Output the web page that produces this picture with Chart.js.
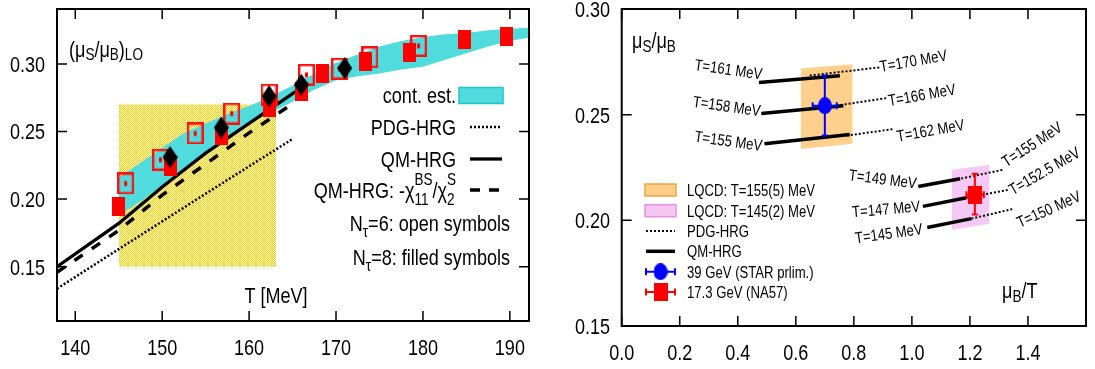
<!DOCTYPE html>
<html lang="en">
<head>
<meta charset="UTF-8">
<title>mu_S / mu_B</title>
<script src="https://cdn.jsdelivr.net/npm/chart.js"></script>
<style>
  body { margin: 0; background: #fff; width: 1095px; height: 369px; overflow: hidden; position: relative; }
  .panel { position: absolute; top: 0; width: 540px; height: 369px; }
  #left { left: 0; }
  #right { left: 555px; }
</style>
</head>
<body>
<div class="panel" id="left"><canvas id="leftChart" width="540" height="369"></canvas></div>
<div class="panel" id="right"><canvas id="rightChart" width="540" height="369"></canvas></div>
<script>
// ---- left panel: (mu_S/mu_B)_LO vs T ----
const bandT     = [145, 147.5, 150, 152.5, 155, 157.5, 160, 162.5, 165, 167.5, 170, 172.5, 175, 177.5, 180, 182.5, 185, 187.5, 190, 192.5];
const bandUpper = [0.216, 0.227, 0.238, 0.249, 0.256, 0.263, 0.269, 0.276, 0.284, 0.293, 0.301, 0.307, 0.313, 0.317, 0.320, 0.322, 0.323, 0.325, 0.326, 0.327];
const bandLower = [0.188, 0.198, 0.210, 0.222, 0.234, 0.245, 0.256, 0.264, 0.272, 0.281, 0.288, 0.291, 0.293, 0.296, 0.298, 0.303, 0.308, 0.313, 0.317, 0.320];

const boxT    = [145, 163.1];
const boxLow  = [0.15, 0.15];
const boxHigh = [0.27, 0.27];

const qmT    = [137.9, 145, 150, 155, 160, 165, 166];
const qmV    = [0.150, 0.182, 0.209, 0.234, 0.256, 0.278, 0.282];
const chiT   = [137.9, 145, 150, 155, 160, 165.2];
const chiV   = [0.1459, 0.1768, 0.2030, 0.2260, 0.2490, 0.2715];
const pdgT   = [137.9, 145, 150, 155, 160, 165];
const pdgV   = [0.1337, 0.1630, 0.1835, 0.2040, 0.2243, 0.2445];

const nt8T   = [145.0, 150.9, 156.8, 162.3, 166.0, 168.5, 173.4, 178.4, 184.8, 189.6];
const nt8V   = [0.1946, 0.2238, 0.2470, 0.2676, 0.2798, 0.2927, 0.3018, 0.3083, 0.3180, 0.3205];
const diaT   = [150.9, 156.8, 162.3, 166.0, 171.0];
const diaV   = [0.2311, 0.2530, 0.2762, 0.2847, 0.2969];
const nt6T   = [145.8, 149.8, 153.8, 158.0, 162.3, 166.6, 170.4, 173.9, 179.5];
const nt6V   = [0.2116, 0.2291, 0.2486, 0.2633, 0.2774, 0.2920, 0.2965, 0.3049, 0.3134];

// ---- right panel: mu_S/mu_B vs mu_B/T ----
const lqcdHiX = [0.617, 0.796], lqcdHiTop = [0.2718, 0.2739], lqcdHiBot = [0.2338, 0.2362];
const lqcdLoX = [1.1375, 1.2676], lqcdLoTop = [0.2239, 0.2263], lqcdLoBot = [0.1956, 0.1984];

const qmX0 = [0.473, 0.481, 0.492, 1.022, 1.038, 1.053];
const qmY0 = [0.2652, 0.2506, 0.2362, 0.2160, 0.2066, 0.1966];
const qmX1 = [0.752, 0.764, 0.786, 1.166, 1.188, 1.205];
const qmY1 = [0.2684, 0.2542, 0.2406, 0.2197, 0.2107, 0.2008];
const pdgX0 = [0.648, 0.741, 0.776, 1.143, 1.188, 1.205];
const pdgY0 = [0.2685, 0.2543, 0.2401, 0.2190, 0.2107, 0.2008];
const pdgX1 = [0.890, 0.915, 0.938, 1.313, 1.336, 1.352];
const pdgY1 = [0.2724, 0.2579, 0.2432, 0.2239, 0.2145, 0.2055];

const tempText  = ['T=161 MeV', 'T=158 MeV', 'T=155 MeV', 'T=170 MeV', 'T=166 MeV', 'T=162 MeV',
                   'T=149 MeV', 'T=147 MeV', 'T=145 MeV', 'T=155 MeV', 'T=152.5 MeV', 'T=150 MeV'];
const tempX     = [0.368, 0.362, 0.368, 1.005, 1.034, 1.064, 0.900, 0.911, 0.920, 1.413, 1.456, 1.471];
const tempY     = [0.2716, 0.2542, 0.2377, 0.2756, 0.2595, 0.2427, 0.2197, 0.2055, 0.1940, 0.2361, 0.2235, 0.2054];
const tempAngle = [8, 8, 8, -10, -10, -10, 7, -5, -8, -33, -30, -24];

const starX = [0.700],  starY = [0.2542], starXErr = [0.658, 0.741], starYErr = [0.2401, 0.2685];
const na57X = [1.217],  na57Y = [0.2121], na57XErr = [1.188, 1.248], na57YErr = [0.2028, 0.2220];

// no narrow face is installed: Liberation Sans squeezed to Helvetica Narrow widths
const FONT = "'Liberation Sans', Arial, sans-serif";
const SQ = 0.82;
Chart.defaults.font.family = FONT;
Chart.defaults.color = '#000';

function xy(xs, ys) { return xs.map((x, i) => ({ x: x, y: ys[i] })); }

function marker(w, h, paint) {
  const c = document.createElement('canvas');
  c.width = w; c.height = h;
  paint(c.getContext('2d'), w, h);
  return c;
}
const redBox = marker(13, 19, (g, w, h) => { g.fillStyle = '#ff0000'; g.fillRect(0, 0, w, h); });
const openBox = marker(17, 22, (g, w, h) => {
  g.strokeStyle = '#ff1010'; g.lineWidth = 2.4; g.strokeRect(1.2, 1.2, w - 2.4, h - 2.4);
  g.fillStyle = '#ff0000'; g.fillRect(w / 2 - 1.5, h / 2 - 2.5, 3, 5);
});
const diamond = marker(15, 22, (g, w, h) => {
  g.fillStyle = '#000'; g.beginPath();
  g.moveTo(w / 2, 0); g.lineTo(w, h / 2); g.lineTo(w / 2, h); g.lineTo(0, h / 2);
  g.closePath(); g.fill();
});
const blueDot = marker(14, 17, (g, w, h) => {
  g.fillStyle = '#0000ff'; g.beginPath(); g.ellipse(w / 2, h / 2, w / 2, h / 2, 0, 0, Math.PI * 2); g.fill();
});
const redSq = marker(14, 18, (g, w, h) => { g.fillStyle = '#ff0000'; g.fillRect(0, 0, w, h); });

function checker() {
  const c = document.createElement('canvas');
  c.width = 2; c.height = 2;
  const g = c.getContext('2d');
  g.fillStyle = '#f9d000'; g.fillRect(0, 0, 2, 2);
  g.fillStyle = '#fff8dc'; g.fillRect(1, 0, 1, 1); g.fillRect(0, 1, 1, 1);
  return g.createPattern(c, 'repeat');
}

// squeezed text at (x, y), alphabetic baseline
function text(ctx, s, x, y, size, align) {
  ctx.font = size + 'px ' + FONT;
  const w = ctx.measureText(s).width * SQ;
  const x0 = align === 'right' ? x - w : align === 'center' ? x - w / 2 : x;
  ctx.save();
  ctx.translate(x0, y);
  ctx.scale(SQ, 1);
  ctx.textAlign = 'left';
  ctx.textBaseline = 'alphabetic';
  ctx.fillText(s, 0, 0);
  ctx.restore();
  return w;
}

// rich text: strings in normal size, {sub, sup} objects small and shifted
function rich(ctx, parts, x, y, size, align, subDy, supDy) {
  const small = size * 0.75;
  subDy = subDy === undefined ? size * 0.2 : subDy;
  supDy = supDy === undefined ? -size * 0.45 : supDy;
  const widths = parts.map(p => {
    if (typeof p === 'string') { ctx.font = size + 'px ' + FONT; return ctx.measureText(p).width * SQ; }
    ctx.font = small + 'px ' + FONT;
    return SQ * Math.max(p.sub ? ctx.measureText(p.sub).width : 0, p.sup ? ctx.measureText(p.sup).width : 0);
  });
  const total = widths.reduce((a, b) => a + b, 0);
  let cx = align === 'right' ? x - total : align === 'center' ? x - total / 2 : x;
  ctx.fillStyle = '#000';
  parts.forEach((p, i) => {
    if (typeof p === 'string') {
      text(ctx, p, cx, y, size, 'left');
    } else {
      if (p.sub) text(ctx, p.sub, cx, y + subDy, small, 'left');
      if (p.sup) text(ctx, p.sup, cx, y + supDy, small, 'left');
    }
    cx += widths[i];
  });
}

// gnuplot style frame with inward ticks on all four sides, labels from the scale ticks
const frameTicks = {
  id: 'frameTicks',
  afterDraw(chart, args, opts) {
    const { ctx, chartArea: a, scales: { x, y } } = chart;
    const len = 10;
    ctx.save();
    ctx.strokeStyle = '#000';
    ctx.lineWidth = 1.5;
    ctx.beginPath();
    x.ticks.forEach(t => {
      const p = x.getPixelForValue(t.value);
      ctx.moveTo(p, a.bottom); ctx.lineTo(p, a.bottom - len);
      ctx.moveTo(p, a.top); ctx.lineTo(p, a.top + len);
    });
    y.ticks.forEach(t => {
      const p = y.getPixelForValue(t.value);
      ctx.moveTo(a.left, p); ctx.lineTo(a.left + len, p);
      ctx.moveTo(a.right, p); ctx.lineTo(a.right - len, p);
    });
    ctx.stroke();
    ctx.lineWidth = 2;
    ctx.strokeRect(a.left, a.top, a.right - a.left, a.bottom - a.top);

    ctx.fillStyle = '#000';
    x.ticks.forEach(t => {
      if (t.label) text(ctx, t.label, x.getPixelForValue(t.value), opts.xBase, 22, 'center');
    });
    y.ticks.forEach(t => {
      if (t.label) text(ctx, t.label, a.left - opts.yGap, y.getPixelForValue(t.value) + 7.9, 22, 'right');
    });
    ctx.restore();
  }
};

function legendLine(ctx, x0, x1, y, width, dash) {
  ctx.save();
  ctx.strokeStyle = '#000';
  ctx.lineWidth = width;
  ctx.setLineDash(dash);
  ctx.beginPath(); ctx.moveTo(x0, y); ctx.lineTo(x1, y); ctx.stroke();
  ctx.restore();
}

const leftDecor = {
  id: 'leftDecor',
  afterDraw(chart) {
    const ctx = chart.ctx;
    ctx.save();
    rich(ctx, ['(μ', { sub: 'S' }, '/μ', { sub: 'B' }, ')', { sub: 'LO' }], 69, 57, 22, 'left', 3);
    rich(ctx, ['T [MeV]'], 276, 303, 22, 'center');

    rich(ctx, ['cont. est.'], 456, 103, 22, 'right');
    ctx.fillStyle = '#50dcdd';
    ctx.strokeStyle = '#1cc3c9';
    ctx.lineWidth = 1.5;
    ctx.fillRect(459, 87.5, 44, 16);
    ctx.strokeRect(459, 87.5, 44, 16);

    rich(ctx, ['PDG-HRG'], 456, 135, 22, 'right');
    legendLine(ctx, 470, 502, 127, 2.4, [2, 2]);
    rich(ctx, ['QM-HRG'], 456, 167, 22, 'right');
    legendLine(ctx, 470, 502, 159, 3.3, []);
    rich(ctx, ['QM-HRG: -χ', { sub: '11', sup: 'BS' }, '/χ', { sub: '2', sup: 'S' }], 456, 198, 22, 'right', 7, -13);
    legendLine(ctx, 470, 500, 190, 3.5, [10, 9]);
    rich(ctx, ['N', { sub: 'τ' }, '=6: open symbols'], 510, 231, 22, 'right', 6);
    rich(ctx, ['N', { sub: 'τ' }, '=8: filled symbols'], 510, 265, 22, 'right', 6);
    ctx.restore();
  }
};

function errorBars(ctx, chart, xs, ys, xErr, yErr, color) {
  const sx = chart.scales.x, sy = chart.scales.y;
  const px = sx.getPixelForValue(xs[0]), py = sy.getPixelForValue(ys[0]);
  const xl = sx.getPixelForValue(xErr[0]), xh = sx.getPixelForValue(xErr[1]);
  const yl = sy.getPixelForValue(yErr[0]), yh = sy.getPixelForValue(yErr[1]);
  ctx.save();
  ctx.strokeStyle = color;
  ctx.lineWidth = 2;
  ctx.beginPath();
  ctx.moveTo(xl, py); ctx.lineTo(xh, py);
  ctx.moveTo(px, yl); ctx.lineTo(px, yh);
  ctx.moveTo(xl, py - 3.5); ctx.lineTo(xl, py + 3.5);
  ctx.moveTo(xh, py - 3.5); ctx.lineTo(xh, py + 3.5);
  ctx.moveTo(px - 3, yl); ctx.lineTo(px + 3, yl);
  ctx.moveTo(px - 3, yh); ctx.lineTo(px + 3, yh);
  ctx.stroke();
  ctx.restore();
}

const rightDecor = {
  id: 'rightDecor',
  beforeDatasetDraw(chart, args) {
    const ds = chart.data.datasets[args.index];
    if (ds.label === '39 GeV (STAR prlim.)') errorBars(chart.ctx, chart, starX, starY, starXErr, starYErr, '#0000ff');
    if (ds.label === '17.3 GeV (NA57)') errorBars(chart.ctx, chart, na57X, na57Y, na57XErr, na57YErr, '#ff0000');
  },
  afterDraw(chart) {
    const ctx = chart.ctx;
    const sx = chart.scales.x, sy = chart.scales.y;
    ctx.save();
    rich(ctx, ['μ', { sub: 'S' }, '/μ', { sub: 'B' }], 77, 48, 22, 'left', 4);
    rich(ctx, ['μ', { sub: 'B' }, '/T'], 447, 298, 22, 'left', 4);

    ctx.fillStyle = '#000';
    tempText.forEach((t, i) => {
      ctx.save();
      ctx.translate(sx.getPixelForValue(tempX[i]), sy.getPixelForValue(tempY[i]));
      ctx.rotate(tempAngle[i] * Math.PI / 180);
      text(ctx, t, 0, 5.7, 16, 'center');
      ctx.restore();
    });

    // legend
    const rows = [190, 210.7, 231, 251.3, 271.7, 292];
    const names = ['LQCD: T=155(5) MeV', 'LQCD: T=145(2) MeV', 'PDG-HRG', 'QM-HRG', '39 GeV (STAR prlim.)', '17.3 GeV (NA57)'];
    ctx.lineWidth = 1.5;
    ctx.fillStyle = '#ffcf88'; ctx.strokeStyle = '#f3a440';
    ctx.fillRect(90, rows[0] - 6, 31, 12); ctx.strokeRect(90, rows[0] - 6, 31, 12);
    ctx.fillStyle = '#f6c6f3'; ctx.strokeStyle = '#e890e6';
    ctx.fillRect(90, rows[1] - 6, 31, 12); ctx.strokeRect(90, rows[1] - 6, 31, 12);
    legendLine(ctx, 91, 120, rows[2], 2, [2, 2]);
    legendLine(ctx, 91, 120, rows[3], 3.5, []);
    [[rows[4], '#0000ff', blueDot], [rows[5], '#ff0000', redSq]].forEach(([ry, col, img]) => {
      ctx.strokeStyle = col; ctx.lineWidth = 2;
      ctx.beginPath();
      ctx.moveTo(91, ry); ctx.lineTo(120, ry);
      ctx.moveTo(91, ry - 3.5); ctx.lineTo(91, ry + 3.5);
      ctx.moveTo(120, ry - 3.5); ctx.lineTo(120, ry + 3.5);
      ctx.stroke();
      ctx.drawImage(img, 105.5 - img.width / 2, ry - img.height / 2);
    });
    ctx.fillStyle = '#000';
    names.forEach((n, i) => text(ctx, n, 132, rows[i] + 6, 16, 'left'));
    ctx.restore();
  }
};

const lineBase = { pointRadius: 0, fill: false, tension: 0, borderCapStyle: 'butt' };

new Chart(document.getElementById('leftChart'), {
  type: 'line',
  data: {
    datasets: [
      { label: 'box top', data: xy(boxT, boxHigh), borderColor: 'transparent', borderWidth: 1, pointRadius: 0, order: 10 },
      { label: 'box', data: xy(boxT, boxLow), borderColor: 'transparent', borderWidth: 1, pointRadius: 0, order: 10,
        fill: '-1', backgroundColor: checker() },
      { label: 'band top', data: xy(bandT, bandUpper), borderColor: 'transparent', borderWidth: 1, pointRadius: 0, order: 8 },
      { label: 'cont. est.', data: xy(bandT, bandLower), borderColor: 'transparent', borderWidth: 1, pointRadius: 0, order: 8,
        fill: '-1', backgroundColor: '#50dcdd' },
      Object.assign({ label: 'PDG-HRG', data: xy(pdgT, pdgV), borderColor: '#000', borderWidth: 2.5, borderDash: [2, 2], order: 5 }, lineBase),
      Object.assign({ label: 'QM-HRG: chi', data: xy(chiT, chiV), borderColor: '#000', borderWidth: 3.5, borderDash: [10, 11], order: 5 }, lineBase),
      Object.assign({ label: 'QM-HRG', data: xy(qmT, qmV), borderColor: '#000', borderWidth: 3.3, order: 5 }, lineBase),
      { label: 'Nt=6', data: xy(nt6T, nt6V), showLine: false, pointStyle: openBox, pointRadius: 8, order: 3 },
      { label: 'Nt=8', data: xy(nt8T, nt8V), showLine: false, pointStyle: redBox, pointRadius: 8, order: 2 },
      { label: 'Nt=8 diamonds', data: xy(diaT, diaV), showLine: false, pointStyle: diamond, pointRadius: 8, order: 1 }
    ]
  },
  options: {
    responsive: false,
    animation: false,
    events: [],
    layout: { padding: { left: 0, right: 11, top: 5, bottom: 0 } },
    plugins: { legend: { display: false }, tooltip: { enabled: false }, frameTicks: { xBase: 355, yGap: 12 } },
    scales: {
      x: {
        type: 'linear', min: 137.9, max: 192.2,
        grid: { display: false }, border: { display: false },
        ticks: {
          display: false, stepSize: 5, includeBounds: false, autoSkip: false,
          callback: v => (Math.round(v) % 10 === 0 ? String(Math.round(v)) : null)
        },
        afterFit: s => { s.height = 48; s.paddingLeft = 0; s.paddingRight = 0; }
      },
      y: {
        type: 'linear', min: 0.1098, max: 0.3407,
        grid: { display: false }, border: { display: false },
        ticks: {
          display: false, stepSize: 0.025, includeBounds: false, autoSkip: false,
          callback: v => { const k = Math.round(v * 1000); return k % 50 === 0 ? (k / 1000).toFixed(2) : null; }
        },
        afterFit: s => { s.width = 57; s.paddingTop = 0; s.paddingBottom = 0; }
      }
    }
  },
  plugins: [frameTicks, leftDecor]
});

const rightSets = [
  { label: 'hi top', data: xy(lqcdHiX, lqcdHiTop), borderColor: 'transparent', borderWidth: 1, pointRadius: 0, order: 10 },
  { label: 'LQCD: T=155(5) MeV', data: xy(lqcdHiX, lqcdHiBot), borderColor: 'transparent', borderWidth: 1, pointRadius: 0, order: 10,
    fill: '-1', backgroundColor: '#ffd08c' },
  { label: 'lo top', data: xy(lqcdLoX, lqcdLoTop), borderColor: 'transparent', borderWidth: 1, pointRadius: 0, order: 10 },
  { label: 'LQCD: T=145(2) MeV', data: xy(lqcdLoX, lqcdLoBot), borderColor: 'transparent', borderWidth: 1, pointRadius: 0, order: 10,
    fill: '-1', backgroundColor: '#f6c8f4' }
];
pdgX0.forEach((x0, i) => rightSets.push(Object.assign({
  label: 'PDG-HRG', data: [{ x: x0, y: pdgY0[i] }, { x: pdgX1[i], y: pdgY1[i] }],
  borderColor: '#000', borderWidth: 2, borderDash: [2, 2], order: 6 }, lineBase)));
qmX0.forEach((x0, i) => rightSets.push(Object.assign({
  label: 'QM-HRG', data: [{ x: x0, y: qmY0[i] }, { x: qmX1[i], y: qmY1[i] }],
  borderColor: '#000', borderWidth: 3.5, order: 5 }, lineBase)));
rightSets.push({ label: '39 GeV (STAR prlim.)', data: xy(starX, starY), showLine: false, pointStyle: blueDot, pointRadius: 8, order: 2 });
rightSets.push({ label: '17.3 GeV (NA57)', data: xy(na57X, na57Y), showLine: false, pointStyle: redSq, pointRadius: 8, order: 1 });

new Chart(document.getElementById('rightChart'), {
  type: 'line',
  data: { datasets: rightSets },
  options: {
    responsive: false,
    animation: false,
    events: [],
    layout: { padding: { left: 0, right: 2, top: 8, bottom: 0 } },
    plugins: { legend: { display: false }, tooltip: { enabled: false }, frameTicks: { xBase: 359.5, yGap: 11.7 } },
    scales: {
      x: {
        type: 'linear', min: 0, max: 1.6,
        grid: { display: false }, border: { display: false },
        ticks: {
          display: false, stepSize: 0.1, includeBounds: false, autoSkip: false,
          callback: v => { const k = Math.round(v * 10); return k % 2 === 0 && k <= 14 ? (k / 10).toFixed(1) : null; }
        },
        afterFit: s => { s.height = 43; s.paddingLeft = 0; s.paddingRight = 0; }
      },
      y: {
        type: 'linear', min: 0.15, max: 0.30,
        grid: { display: false }, border: { display: false },
        ticks: {
          display: false, stepSize: 0.025, autoSkip: false,
          callback: v => { const k = Math.round(v * 1000); return k % 50 === 0 ? (k / 1000).toFixed(2) : null; }
        },
        afterFit: s => { s.width = 66.7; s.paddingTop = 0; s.paddingBottom = 0; }
      }
    }
  },
  plugins: [frameTicks, rightDecor]
});
</script>
</body>
</html>
